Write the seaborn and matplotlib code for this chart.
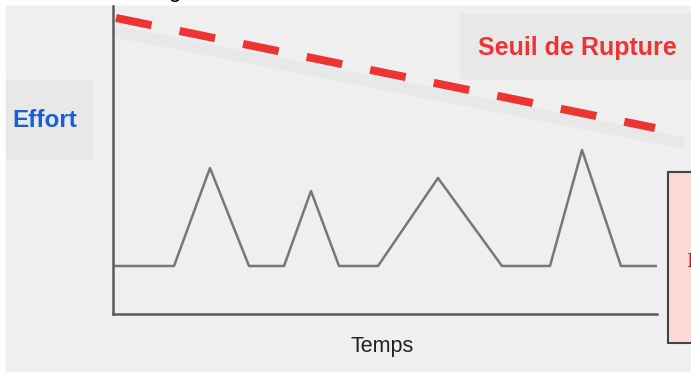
import matplotlib
matplotlib.use("Agg")
import matplotlib.pyplot as plt
from matplotlib.patches import Rectangle
import seaborn as sns

# effort signal over time (arbitrary units)
temps = [0.0, 6.1, 9.7, 13.6, 17.1, 19.8, 22.6, 26.5, 32.5, 38.9, 43.7, 46.9, 50.8, 54.4]
effort = [4.8, 4.8, 14.6, 4.8, 4.8, 12.3, 4.8, 4.8, 13.6, 4.8, 4.8, 16.4, 4.8, 4.8]

# breaking threshold (dashed red) and its soft shadow band
seuil_x = [0.3, 54.2]
seuil_y = [29.6, 18.6]
ombre_x = [0.0, 57.1]
ombre_y = [28.3, 17.1]

W, H = 691, 374
BG = "#efefef"
RED = "#ee3333"


def fx(x):
    return x / W


def fy(y):
    return 1 - y / H


sns.set_style("white")
plt.rcParams["font.family"] = ["Liberation Sans", "DejaVu Sans"]

fig = plt.figure(figsize=(W / 100, H / 100), dpi=100)
fig.patch.set_facecolor("white")

# grey panel and label boxes
fig.patches.append(Rectangle((fx(6), fy(371)), fx(685), (371 - 6) / H,
                             transform=fig.transFigure, color=BG, zorder=-2))
fig.patches.append(Rectangle((fx(460), fy(78)), fx(240), 64 / H,
                             transform=fig.transFigure, color="#e8e8e8", zorder=-1))
fig.patches.append(Rectangle((fx(6), fy(158)), fx(86), 78 / H,
                             transform=fig.transFigure, color="#e8e8e8", zorder=-1))

ax = fig.add_axes([fx(113), fy(314), (657 - 113) / W, (314 - 6) / H])
ax.set_facecolor("none")
ax.set_zorder(1)

sns.lineplot(x=ombre_x, y=ombre_y, ax=ax, color="#e8e8e8", linewidth=8.6,
             solid_capstyle="butt", clip_on=False, estimator=None, sort=False)
sns.lineplot(x=seuil_x, y=seuil_y, ax=ax, color=RED, linewidth=5.8,
             linestyle=(0, (4.5, 3.55)), clip_on=False, estimator=None, sort=False)
sns.lineplot(x=temps, y=effort, ax=ax, color="#777777", linewidth=1.8,
             estimator=None, sort=False)

ax.set_xlim(0, 54.4)
ax.set_ylim(0, 30.8)
ax.set_xticks([])
ax.set_yticks([])
ax.set_xlabel("")
ax.set_ylabel("")
for side in ["top", "right"]:
    ax.spines[side].set_visible(False)
for side in ["left", "bottom"]:
    ax.spines[side].set_color("#5a5a5a")
    ax.spines[side].set_linewidth(1.8)

fig.text(fx(577), fy(55), "Seuil de Rupture", color=RED, fontsize=18,
         fontweight="bold", ha="center", va="baseline")
fig.text(fx(44.5), fy(127), "Effort", color="#1b5ed8", fontsize=17.5,
         fontweight="bold", ha="center", va="baseline")
fig.text(fx(382), fy(352), "Temps", color="#222222", fontsize=15.5,
         ha="center", va="baseline")
fig.text(fx(168), fy(-3), "g", color="black", fontsize=16,
         ha="left", va="baseline")

# pink note box cut off at the right edge
fig.patches.append(Rectangle((fx(668), fy(343)), fx(40), 171 / H,
                             transform=fig.transFigure, facecolor="#fdd9d5",
                             edgecolor="#444444", linewidth=1.5, zorder=2))
fig.text(fx(686), fy(267), "I", color="red", fontsize=16,
         family="Liberation Serif", ha="left", va="baseline", zorder=3)

fig.savefig("out.png", dpi=100)
